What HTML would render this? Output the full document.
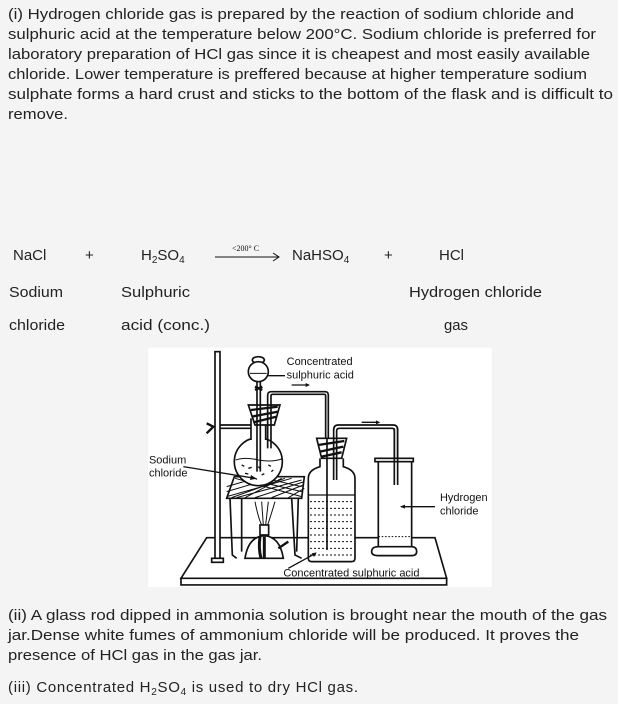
<!DOCTYPE html>
<html><head><meta charset="utf-8"><style>
html,body{margin:0;padding:0;background:#f4f4f4;}
svg{display:block}
.t{font-family:"Liberation Sans","DejaVu Sans",sans-serif;font-size:15px;fill:#222;}
.d{font-family:"Liberation Sans",sans-serif;font-size:33px;fill:#111;}
</style></head><body>
<svg width="618" height="704" viewBox="0 0 618 704" xmlns="http://www.w3.org/2000/svg">
<rect width="618" height="704" fill="#f4f4f4"/>
<g class="t">
<text x="8" y="19" textLength="566" lengthAdjust="spacingAndGlyphs">(i) Hydrogen chloride gas is prepared by the reaction of sodium chloride and</text>
<text x="8" y="39" textLength="588" lengthAdjust="spacingAndGlyphs">sulphuric acid at the temperature below 200°C. Sodium chloride is preferred for</text>
<text x="8" y="59" textLength="582" lengthAdjust="spacingAndGlyphs">laboratory preparation of HCl gas since it is cheapest and most easily available</text>
<text x="8" y="79" textLength="579" lengthAdjust="spacingAndGlyphs">chloride. Lower temperature is preffered because at higher temperature sodium</text>
<text x="8" y="99" textLength="605" lengthAdjust="spacingAndGlyphs">sulphate forms a hard crust and sticks to the bottom of the flask and is difficult to</text>
<text x="8" y="119" textLength="60" lengthAdjust="spacingAndGlyphs">remove.</text>

<text x="13" y="260">NaCl</text>
<text x="85" y="260">+</text>
<text x="141" y="260">H<tspan font-size="10" dy="3">2</tspan><tspan dy="-3">SO</tspan><tspan font-size="10" dy="3">4</tspan></text>
<text x="292" y="260">NaHSO<tspan font-size="10" dy="3">4</tspan></text>
<text x="384" y="260">+</text>
<text x="439" y="260">HCl</text>
<text x="9" y="297" textLength="54" lengthAdjust="spacingAndGlyphs">Sodium</text>
<text x="121" y="297" textLength="69" lengthAdjust="spacingAndGlyphs">Sulphuric</text>
<text x="409" y="297" textLength="133" lengthAdjust="spacingAndGlyphs">Hydrogen chloride</text>
<text x="9" y="330" textLength="56" lengthAdjust="spacingAndGlyphs">chloride</text>
<text x="121" y="330" textLength="89" lengthAdjust="spacingAndGlyphs">acid (conc.)</text>
<text x="444" y="330" textLength="24" lengthAdjust="spacingAndGlyphs">gas</text>

<text x="8" y="620" textLength="599" lengthAdjust="spacingAndGlyphs">(ii) A glass rod dipped in ammonia solution is brought near the mouth of the gas</text>
<text x="8" y="640" textLength="571" lengthAdjust="spacingAndGlyphs">jar.Dense white fumes of ammonium chloride will be produced. It proves the</text>
<text x="8" y="660" textLength="254" lengthAdjust="spacingAndGlyphs">presence of HCl gas in the gas jar.</text>
<text x="8" y="692" letter-spacing="0.7">(iii) Concentrated H<tspan font-size="10" dy="3">2</tspan><tspan dy="-3">SO</tspan><tspan font-size="10" dy="3">4</tspan><tspan dy="-3"> is used to dry HCl gas.</tspan></text>
</g>
<line x1="215" y1="257" x2="278" y2="257" stroke="#111" stroke-width="1"/>
<path d="M273,253 L279,257 L273,261" fill="none" stroke="#111"/>
<text x="232" y="251" font-family="Liberation Serif,serif" font-size="8" fill="#111">&lt;200° C</text>

<g transform="translate(145,345) scale(0.3333)" fill="none" stroke="#111" stroke-width="5">
<rect x="10" y="8" width="1030" height="718" fill="#fff" stroke="none"/>
<polygon points="185,578 870,578 905,700 108,700" fill="#fff"/>
<polygon points="108,700 905,700 905,720 108,720" fill="#fff"/>
<rect x="210" y="20" width="15" height="630" fill="#fff"/>
<rect x="200" y="640" width="35" height="12" fill="#fff"/>
<line x1="225" y1="240" x2="320" y2="240"/><line x1="225" y1="250" x2="320" y2="250"/>
<path d="M185,235 L205,245 L185,265" stroke-width="7"/>
<polygon points="268,395 478,395 470,460 245,460" fill="#fff"/>
<path d="M270,400 L470,455 M300,400 L470,440 M245,455 L440,400 M275,458 L470,405 M330,458 L478,410 M245,440 L380,400 M300,458 L410,400 M380,458 L475,420 M245,425 L330,400 M430,458 L478,430 M360,400 L470,425 M420,400 L260,458" stroke-width="3"/>
<path d="M255,460 L262,630 L275,640 M290,460 L290,620 M460,460 L455,620 M440,460 L450,630 L470,640"/>
<path d="M300,640 Q310,575 358,572 Q405,575 415,640 Z" fill="#fff"/>
<path d="M345,575 Q340,610 348,640 M358,575 L358,640" stroke-width="9"/>
<rect x="345" y="540" width="26" height="30" fill="#fff"/>
<path d="M400,610 L430,590" stroke-width="7"/>
<path d="M330,470 Q340,520 350,540 M390,470 Q375,520 368,540 M350,470 L355,540 M370,470 L362,540" stroke-width="3"/>
<circle cx="340" cy="350" r="72" fill="#fff"/>
<rect x="318" y="220" width="44" height="70" fill="#fff" stroke="none"/>
<line x1="318" y1="220" x2="318" y2="285"/><line x1="362" y1="220" x2="362" y2="285"/>
<path d="M272,345 Q300,335 340,345 Q380,352 410,342" stroke-width="3"/>
<path d="M290,360 l8,4 M310,370 l10,-3 M340,365 l6,6 M370,360 l8,4 M300,385 l10,2 M350,390 l8,-4 M330,400 l6,3 M385,375 l-6,5" stroke-width="4"/>
<polygon points="310,180 405,180 388,240 330,240" fill="#fff"/>
<path d="M318,195 L398,185 M320,215 L400,200 M325,232 L395,215" stroke-width="7"/>
<ellipse cx="340" cy="45" rx="18" ry="10" fill="#fff"/>
<circle cx="340" cy="80" r="30" fill="#fff"/>
<path d="M315,85 L365,85" stroke-width="3"/>
<line x1="336" y1="110" x2="336" y2="380"/><line x1="346" y1="110" x2="346" y2="380"/>
<path d="M330,125 L352,135 M330,135 L352,125" stroke-width="7"/>
<line x1="370" y1="92" x2="420" y2="92" stroke-width="4"/>
<path d="M368,310 L368,150 Q368,140 380,140 L540,140 Q550,140 550,150 L550,610"/>
<path d="M378,310 L378,152 Q378,148 384,148 L538,148 Q542,148 542,152 L542,610"/>
<line x1="440" y1="120" x2="490" y2="120" stroke-width="4"/><path d="M482,114 L495,120 L482,126" fill="#111" stroke="none"/>
<path d="M525,340 L525,365 Q490,375 490,400 L490,640 Q490,650 500,650 L620,650 Q630,650 630,640 L630,400 Q630,375 595,365 L595,340" fill="#fff"/>
<line x1="490" y1="450" x2="630" y2="450" stroke-width="4"/>
<g stroke-width="3" stroke-dasharray="6,6">
<line x1="495" y1="470" x2="625" y2="470"/><line x1="495" y1="490" x2="625" y2="490"/><line x1="495" y1="510" x2="625" y2="510"/><line x1="495" y1="530" x2="625" y2="530"/><line x1="495" y1="550" x2="625" y2="550"/><line x1="495" y1="570" x2="625" y2="570"/><line x1="495" y1="590" x2="625" y2="590"/><line x1="495" y1="610" x2="625" y2="610"/><line x1="495" y1="630" x2="625" y2="630"/>
</g>
<polygon points="515,280 605,280 590,340 530,340" fill="#fff"/>
<path d="M520,300 L598,288 M525,320 L595,305 M530,335 L590,322" stroke-width="7"/>
<line x1="546" y1="280" x2="546" y2="615"/>
<path d="M566,405 L566,255 Q566,240 580,240 L745,240 Q758,240 758,255 L758,420"/>
<path d="M575,405 L575,258 Q575,250 583,250 L742,250 Q748,250 748,258 L748,420"/>
<line x1="650" y1="232" x2="700" y2="232" stroke-width="4"/><path d="M693,226 L706,232 L693,238" fill="#111" stroke="none"/>
<rect x="700" y="345" width="100" height="265" fill="#fff"/>
<rect x="690" y="340" width="115" height="10" fill="#fff"/>
<path d="M680,620 Q680,605 700,605 L800,605 Q815,605 815,620 Q815,632 800,632 L700,632 Q680,632 680,620 Z" fill="#fff"/>
<line x1="748" y1="250" x2="748" y2="420"/><line x1="758" y1="250" x2="758" y2="420"/>
<line x1="700" y1="575" x2="800" y2="575" stroke-width="3" stroke-dasharray="5,5"/>
<line x1="115" y1="365" x2="330" y2="400" stroke-width="4"/><path d="M318,390 L335,401 L315,405" fill="#111" stroke="none"/>
<line x1="870" y1="485" x2="768" y2="485" stroke-width="4"/><path d="M780,479 L765,485 L780,491" fill="#111" stroke="none"/>
<line x1="430" y1="670" x2="512" y2="625" stroke-width="4"/><path d="M500,625 L515,622 L507,636" fill="#111" stroke="none"/>
</g>
<g transform="translate(145,345) scale(0.3333)" class="d">
<text x="425" y="60">Concentrated</text>
<text x="425" y="100">sulphuric  acid</text>
<text x="12" y="355">Sodium</text>
<text x="12" y="395">chloride</text>
<text x="885" y="468">Hydrogen</text>
<text x="885" y="508">chloride</text>
<text x="415" y="695">Concentrated  sulphuric  acid</text>
</g>
</svg>
</body></html>
